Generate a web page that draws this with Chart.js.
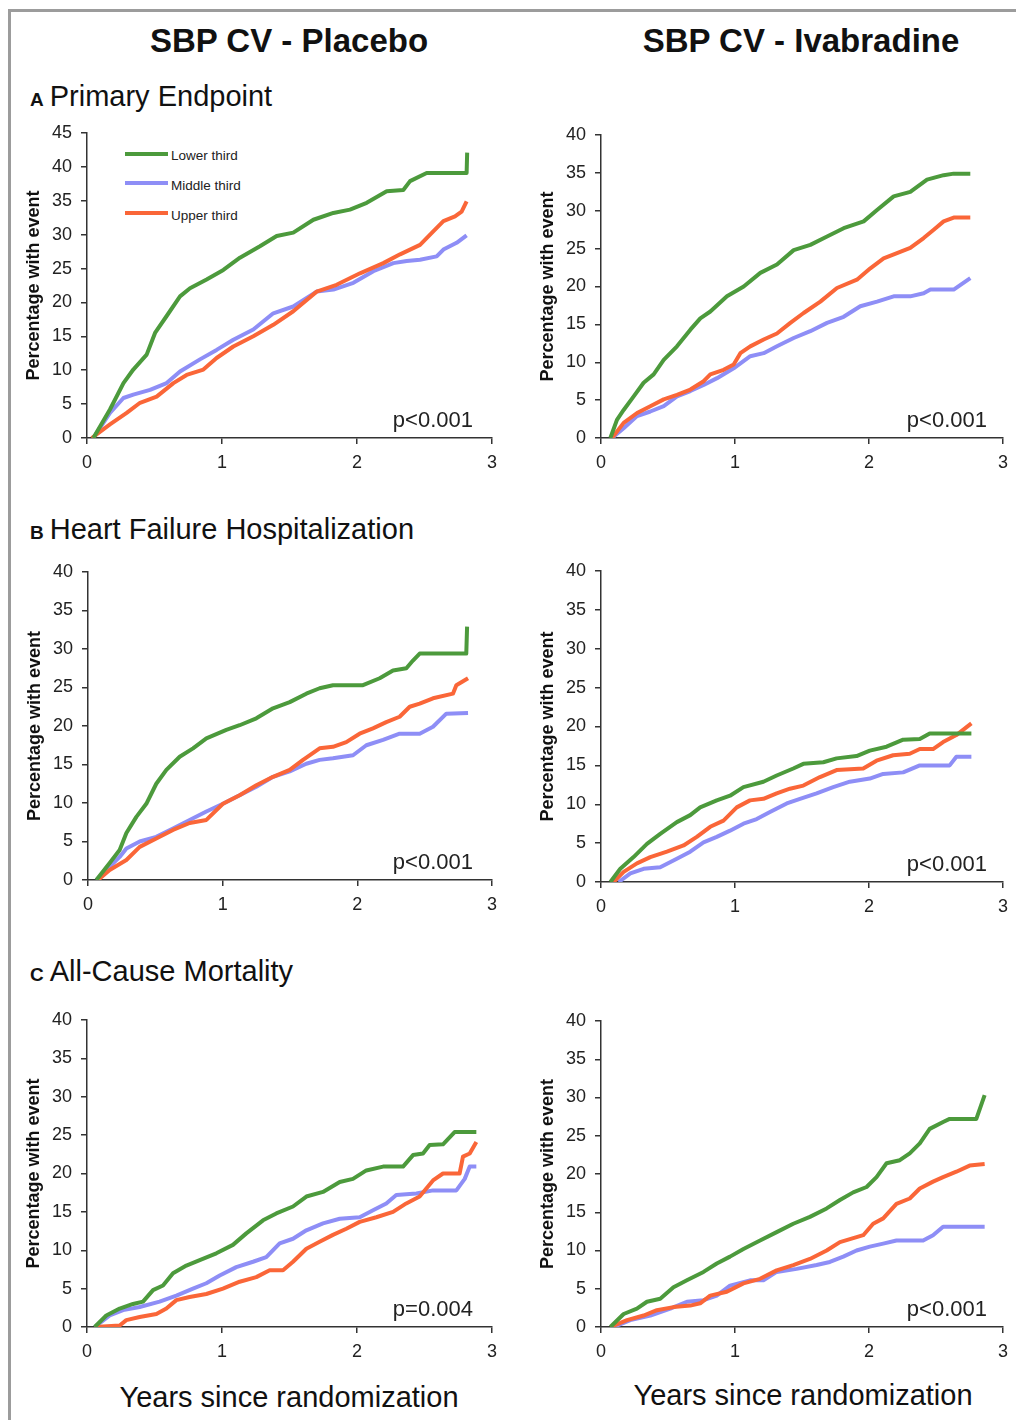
<!DOCTYPE html>
<html>
<head>
<meta charset="utf-8">
<script src="https://cdn.jsdelivr.net/npm/chart.js@4.4.1/dist/chart.umd.min.js"></script>
<style>
  body{margin:0;background:#fff;width:1016px;height:1420px;overflow:hidden;position:relative;
       font-family:"Liberation Sans",Arial,sans-serif;color:#111}
  .frame{position:absolute;left:8px;top:9px;width:1100px;height:1500px;
         border-left:3px solid #9c9c9c;border-top:3px solid #9c9c9c}
  .t{position:absolute;white-space:nowrap}
  .head{font-size:33px;font-weight:bold;line-height:33px;width:500px;text-align:center}
  .sec{font-size:29px;line-height:29px;left:30px}
  .sec b{font-size:19px;margin-right:6px}
  .xt{font-size:29px;line-height:29px;width:500px;text-align:center}
  .lg{position:absolute;left:125px;width:43px;height:4px}
  .lt{font-size:13.5px;line-height:13px;left:171px;color:#222}
  canvas{position:absolute}
</style>
</head>
<body>
<div class="frame"></div>

<div class="t head" style="left:39px;top:24px">SBP CV - Placebo</div>
<div class="t head" style="left:551px;top:24px">SBP CV - Ivabradine</div>

<div class="t sec" style="top:82px"><b>A</b>Primary Endpoint</div>
<div class="t sec" style="top:515px"><b>B</b>Heart Failure Hospitalization</div>
<div class="t sec" style="top:957px"><b>C</b>All-Cause Mortality</div>

<div class="t xt" style="left:39px;top:1383px">Years since randomization</div>
<div class="t xt" style="left:553px;top:1381px">Years since randomization</div>

<div class="lg" style="top:152px;background:#4c9a3c"></div>
<div class="t lt" style="top:149px">Lower third</div>
<div class="lg" style="top:181px;background:#8e8ef6"></div>
<div class="t lt" style="top:179px">Middle third</div>
<div class="lg" style="top:211px;background:#fa6638"></div>
<div class="t lt" style="top:209px">Upper third</div>

<script>
// series colours: lower / middle / upper third
const GREEN = '#4c9a3c', BLUE = '#8e8ef6', ORANGE = '#fa6638';
const yearTicks = ['0', '1', '2', '3'];

// [years, percent]
const primaryPlaceboLower = [[0.047,0],[0.17,4.2],[0.27,8.1],[0.343,10.1],[0.442,12.3],[0.504,15.5],[0.59,18.0],[0.689,20.9],[0.763,22.1],[0.886,23.4],[1.01,24.8],[1.133,26.6],[1.281,28.3],[1.405,29.8],[1.528,30.3],[1.677,32.2],[1.825,33.2],[1.948,33.7],[2.072,34.7],[2.22,36.4],[2.343,36.6],[2.393,37.9],[2.516,39.1],[2.812,39.1],[2.816,42.1]];
const primaryPlaceboMiddle = [[0.047,0],[0.17,3.7],[0.27,5.9],[0.343,6.4],[0.467,7.1],[0.59,8.1],[0.689,9.8],[0.837,11.6],[0.96,13.0],[1.084,14.5],[1.232,16.0],[1.38,18.4],[1.528,19.4],[1.701,21.6],[1.825,21.9],[1.973,22.9],[2.121,24.6],[2.269,25.8],[2.368,26.1],[2.467,26.3],[2.59,26.8],[2.64,27.8],[2.738,28.8],[2.812,29.9]];
const primaryPlaceboUpper = [[0.035,0],[0.17,2.0],[0.294,3.7],[0.393,5.2],[0.516,6.1],[0.64,8.1],[0.738,9.3],[0.862,10.1],[0.96,11.8],[1.084,13.5],[1.232,15.0],[1.38,16.7],[1.528,18.7],[1.701,21.6],[1.849,22.6],[2.022,24.3],[2.195,25.8],[2.319,27.1],[2.467,28.5],[2.565,30.5],[2.64,32.0],[2.726,32.7],[2.775,33.4],[2.812,34.9]];

const primaryIvabLower = [[0.07,0],[0.119,2.4],[0.169,3.7],[0.244,5.5],[0.318,7.3],[0.393,8.4],[0.468,10.3],[0.567,12.1],[0.667,14.3],[0.741,15.8],[0.816,16.7],[0.94,18.7],[1.065,20.0],[1.189,21.8],[1.313,22.9],[1.438,24.8],[1.562,25.5],[1.687,26.6],[1.811,27.7],[1.96,28.6],[2.06,30.1],[2.184,31.9],[2.308,32.5],[2.433,34.1],[2.557,34.7],[2.632,34.9],[2.756,34.9]];
const primaryIvabMiddle = [[0.082,0],[0.169,1.3],[0.269,2.9],[0.368,3.5],[0.468,4.2],[0.567,5.5],[0.667,6.2],[0.766,7.0],[0.866,7.9],[0.99,9.2],[1.114,10.8],[1.214,11.2],[1.313,12.1],[1.438,13.2],[1.562,14.1],[1.687,15.2],[1.811,16.0],[1.935,17.4],[2.06,18.0],[2.184,18.7],[2.308,18.7],[2.408,19.1],[2.458,19.6],[2.632,19.6],[2.756,21.1]];
const primaryIvabUpper = [[0.082,0],[0.169,2.0],[0.269,3.3],[0.368,4.2],[0.468,5.1],[0.567,5.7],[0.667,6.4],[0.766,7.5],[0.816,8.4],[0.915,9.0],[0.99,9.7],[1.04,11.2],[1.114,12.1],[1.214,13.0],[1.313,13.8],[1.413,15.2],[1.512,16.5],[1.637,18.0],[1.761,19.8],[1.91,20.9],[2.01,22.4],[2.109,23.7],[2.209,24.4],[2.308,25.1],[2.408,26.4],[2.483,27.5],[2.557,28.6],[2.632,29.1],[2.756,29.1]];

const hfPlaceboLower = [[0.062,0],[0.161,2.2],[0.235,3.9],[0.285,6.1],[0.359,8.2],[0.433,9.9],[0.507,12.5],[0.582,14.3],[0.681,16.0],[0.78,17.1],[0.879,18.4],[1.027,19.5],[1.126,20.1],[1.25,21.0],[1.374,22.3],[1.498,23.1],[1.621,24.2],[1.72,24.9],[1.819,25.3],[2.042,25.3],[2.166,26.2],[2.265,27.2],[2.364,27.5],[2.413,28.5],[2.463,29.4],[2.809,29.4],[2.815,32.9]];
const hfPlaceboMiddle = [[0.062,0],[0.161,1.7],[0.235,3.0],[0.285,4.1],[0.384,5.0],[0.507,5.6],[0.631,6.7],[0.755,7.8],[0.879,8.9],[1.002,9.9],[1.126,11.0],[1.25,12.1],[1.374,13.4],[1.498,14.1],[1.621,15.1],[1.72,15.6],[1.819,15.8],[1.968,16.2],[2.067,17.5],[2.191,18.2],[2.314,19.0],[2.463,19.0],[2.562,19.9],[2.661,21.6],[2.822,21.7]];
const hfPlaceboUpper = [[0.074,0],[0.161,1.3],[0.285,2.6],[0.384,4.3],[0.507,5.4],[0.631,6.5],[0.755,7.4],[0.879,7.8],[1.002,9.9],[1.126,11.0],[1.25,12.3],[1.374,13.4],[1.498,14.3],[1.597,15.6],[1.72,17.1],[1.819,17.3],[1.918,17.9],[2.017,19.0],[2.116,19.7],[2.215,20.5],[2.314,21.2],[2.389,22.5],[2.463,22.9],[2.562,23.6],[2.71,24.2],[2.735,25.3],[2.822,26.2]];

const hfIvabLower = [[0.07,0],[0.144,1.7],[0.243,3.2],[0.343,4.9],[0.442,6.2],[0.566,7.7],[0.666,8.6],[0.74,9.6],[0.864,10.5],[0.963,11.1],[1.063,12.2],[1.212,12.9],[1.311,13.7],[1.435,14.6],[1.51,15.2],[1.659,15.4],[1.758,15.9],[1.907,16.2],[2.006,16.9],[2.131,17.4],[2.255,18.3],[2.379,18.4],[2.453,19.1],[2.764,19.1]];
const hfIvabMiddle = [[0.132,0],[0.219,1.1],[0.318,1.7],[0.442,1.9],[0.566,3.0],[0.666,3.9],[0.765,5.1],[0.864,5.8],[0.963,6.6],[1.063,7.5],[1.162,8.1],[1.261,9.0],[1.386,10.1],[1.485,10.7],[1.609,11.4],[1.733,12.2],[1.857,12.9],[2.006,13.3],[2.106,13.9],[2.255,14.1],[2.379,15.0],[2.602,15.0],[2.652,16.1],[2.764,16.1]];
const hfIvabUpper = [[0.094,0],[0.169,1.3],[0.268,2.4],[0.368,3.2],[0.492,3.9],[0.616,4.7],[0.715,5.8],[0.815,7.1],[0.914,7.9],[1.013,9.6],[1.112,10.5],[1.212,10.7],[1.311,11.4],[1.41,12.0],[1.51,12.4],[1.634,13.5],[1.758,14.4],[1.957,14.6],[2.056,15.6],[2.18,16.3],[2.304,16.5],[2.379,17.1],[2.478,17.1],[2.553,18.0],[2.652,18.9],[2.764,20.4]];

const mortPlaceboLower = [[0.057,0],[0.143,1.5],[0.242,2.4],[0.341,3.0],[0.415,3.3],[0.489,4.8],[0.563,5.4],[0.637,7.0],[0.736,8.0],[0.835,8.7],[0.958,9.6],[1.081,10.7],[1.18,12.2],[1.304,13.9],[1.402,14.8],[1.526,15.7],[1.625,17.0],[1.748,17.6],[1.872,18.9],[1.97,19.3],[2.069,20.4],[2.193,20.9],[2.341,20.9],[2.415,22.4],[2.489,22.6],[2.538,23.7],[2.637,23.8],[2.723,25.4],[2.884,25.4]];
const mortPlaceboMiddle = [[0.057,0],[0.168,1.5],[0.267,2.2],[0.39,2.6],[0.538,3.3],[0.662,4.1],[0.785,5.0],[0.884,5.7],[0.983,6.7],[1.106,7.8],[1.23,8.5],[1.328,9.1],[1.427,10.9],[1.526,11.5],[1.625,12.6],[1.748,13.5],[1.872,14.1],[2.02,14.3],[2.119,15.2],[2.217,16.1],[2.291,17.2],[2.44,17.4],[2.563,17.8],[2.736,17.8],[2.798,19.3],[2.835,20.9],[2.884,20.9]];
const mortPlaceboUpper = [[0.057,0],[0.242,0.2],[0.291,0.9],[0.39,1.3],[0.514,1.7],[0.588,2.4],[0.662,3.5],[0.76,3.9],[0.884,4.3],[1.007,5.0],[1.131,5.9],[1.254,6.5],[1.353,7.4],[1.452,7.4],[1.526,8.5],[1.625,10.2],[1.723,11.1],[1.822,12.0],[1.921,12.8],[2.02,13.7],[2.143,14.3],[2.267,15.0],[2.365,16.1],[2.464,17.0],[2.563,19.1],[2.637,20.0],[2.76,20.0],[2.785,22.2],[2.835,22.6],[2.884,24.1]];

const mortIvabLower = [[0.07,0],[0.169,1.7],[0.268,2.4],[0.343,3.3],[0.442,3.7],[0.541,5.2],[0.641,6.1],[0.765,7.2],[0.864,8.3],[0.963,9.2],[1.063,10.2],[1.187,11.3],[1.311,12.4],[1.435,13.5],[1.559,14.4],[1.684,15.5],[1.783,16.6],[1.882,17.6],[1.982,18.3],[2.056,19.6],[2.131,21.4],[2.23,21.8],[2.304,22.7],[2.379,24.0],[2.453,25.9],[2.553,26.8],[2.602,27.2],[2.801,27.2],[2.863,30.3]];
const mortIvabMiddle = [[0.094,0],[0.219,0.9],[0.368,1.5],[0.517,2.4],[0.641,3.3],[0.765,3.5],[0.864,4.1],[0.963,5.4],[1.112,6.1],[1.212,6.1],[1.311,7.2],[1.46,7.6],[1.609,8.1],[1.708,8.5],[1.808,9.2],[1.907,10.0],[2.006,10.5],[2.106,10.9],[2.205,11.3],[2.404,11.3],[2.478,12.0],[2.553,13.1],[2.863,13.1]];
const mortIvabUpper = [[0.07,0],[0.194,0.9],[0.318,1.5],[0.417,2.2],[0.541,2.6],[0.666,2.8],[0.74,3.1],[0.815,4.1],[0.939,4.6],[1.063,5.7],[1.187,6.3],[1.311,7.4],[1.435,8.1],[1.559,8.9],[1.684,10.0],[1.783,11.1],[1.957,12.0],[2.031,13.5],[2.106,14.2],[2.205,16.1],[2.304,16.8],[2.379,18.1],[2.478,19.0],[2.553,19.6],[2.652,20.3],[2.751,21.1],[2.863,21.3]];

const FONT = '"Liberation Sans", Arial, sans-serif';
// y tick labels need ~20px above the plot and the last x label ~14px right of it
const YAXIS_W = 64, PAD_T = 22, PAD_R = 16, XAXIS_H = 40;

// p-value text in the lower right of each plot
const pValuePlugin = {
  id: 'pvalue',
  afterDraw(chart, args, opts) {
    const a = chart.chartArea, ctx = chart.ctx;
    ctx.save();
    ctx.font = '22px ' + FONT;
    ctx.fillStyle = '#222';
    ctx.textAlign = 'right';
    ctx.textBaseline = 'alphabetic';
    ctx.fillText(opts.text, a.right - opts.offset, a.bottom - 11);
    ctx.restore();
  }
};

// plot area boxes [left, top, right, bottom] in page pixels
const panels = [
  {box:[87,133,492,438],  yMax:45, p:'p<0.001', off:19, lines:[primaryPlaceboLower, primaryPlaceboMiddle, primaryPlaceboUpper]},
  {box:[601,135,1003,438], yMax:40, p:'p<0.001', off:16, lines:[primaryIvabLower, primaryIvabMiddle, primaryIvabUpper]},
  {box:[88,572,492,880],  yMax:40, p:'p<0.001', off:19, lines:[hfPlaceboLower, hfPlaceboMiddle, hfPlaceboUpper]},
  {box:[601,571,1003,882], yMax:40, p:'p<0.001', off:16, lines:[hfIvabLower, hfIvabMiddle, hfIvabUpper]},
  {box:[87,1020,492,1327], yMax:40, p:'p=0.004', off:19, lines:[mortPlaceboLower, mortPlaceboMiddle, mortPlaceboUpper]},
  {box:[601,1021,1003,1327], yMax:40, p:'p<0.001', off:16, lines:[mortIvabLower, mortIvabMiddle, mortIvabUpper]}
];

function toXY(arr) { return arr.map(([x, y]) => ({x, y})); }

function makeLine(label, color, arr) {
  return {label, data: toXY(arr), borderColor: color, backgroundColor: color,
          borderWidth: 4, pointRadius: 0, tension: 0, fill: false,
          borderCapStyle: 'butt', borderJoinStyle: 'round'};
}

panels.forEach(p => {
  const [l, t, r, b] = p.box;
  const cv = document.createElement('canvas');
  cv.width = YAXIS_W + (r - l) + PAD_R;
  cv.height = PAD_T + (b - t) + XAXIS_H;
  cv.style.left = (l - YAXIS_W) + 'px';
  cv.style.top = (t - PAD_T) + 'px';
  document.body.appendChild(cv);

  new Chart(cv.getContext('2d'), {
    type: 'line',
    data: {
      datasets: [
        makeLine('Lower third', GREEN, p.lines[0]),
        makeLine('Upper third', ORANGE, p.lines[2]),
        makeLine('Middle third', BLUE, p.lines[1])
      ]
    },
    plugins: [pValuePlugin],
    options: {
      responsive: false,
      animation: false,
      layout: {padding: {top: PAD_T, right: PAD_R, left: 0, bottom: 0}},
      plugins: {
        legend: {display: false},
        tooltip: {enabled: false},
        pvalue: {text: p.p, offset: p.off}
      },
      scales: {
        x: {
          type: 'linear', min: 0, max: 3,
          afterFit: s => { s.height = XAXIS_H; },
          grid: {drawOnChartArea: false, drawTicks: true, tickLength: 6, color: '#333', lineWidth: 1.5},
          border: {display: true, color: '#333', width: 1.5},
          ticks: {stepSize: 1, padding: 8, color: '#222', font: {family: FONT, size: 18},
                  callback: v => yearTicks[v]}
        },
        y: {
          min: 0, max: p.yMax,
          afterFit: s => { s.width = YAXIS_W; },
          grid: {drawOnChartArea: false, drawTicks: true, tickLength: 6, color: '#333', lineWidth: 1.5},
          border: {display: true, color: '#333', width: 1.5},
          ticks: {stepSize: 5, padding: 9, color: '#222', font: {family: FONT, size: 18}},
          title: {display: true, text: 'Percentage with event', color: '#111', padding: 0,
                  font: {family: FONT, size: 18, weight: 'bold'}}
        }
      }
    }
  });
});
</script>
</body>
</html>
